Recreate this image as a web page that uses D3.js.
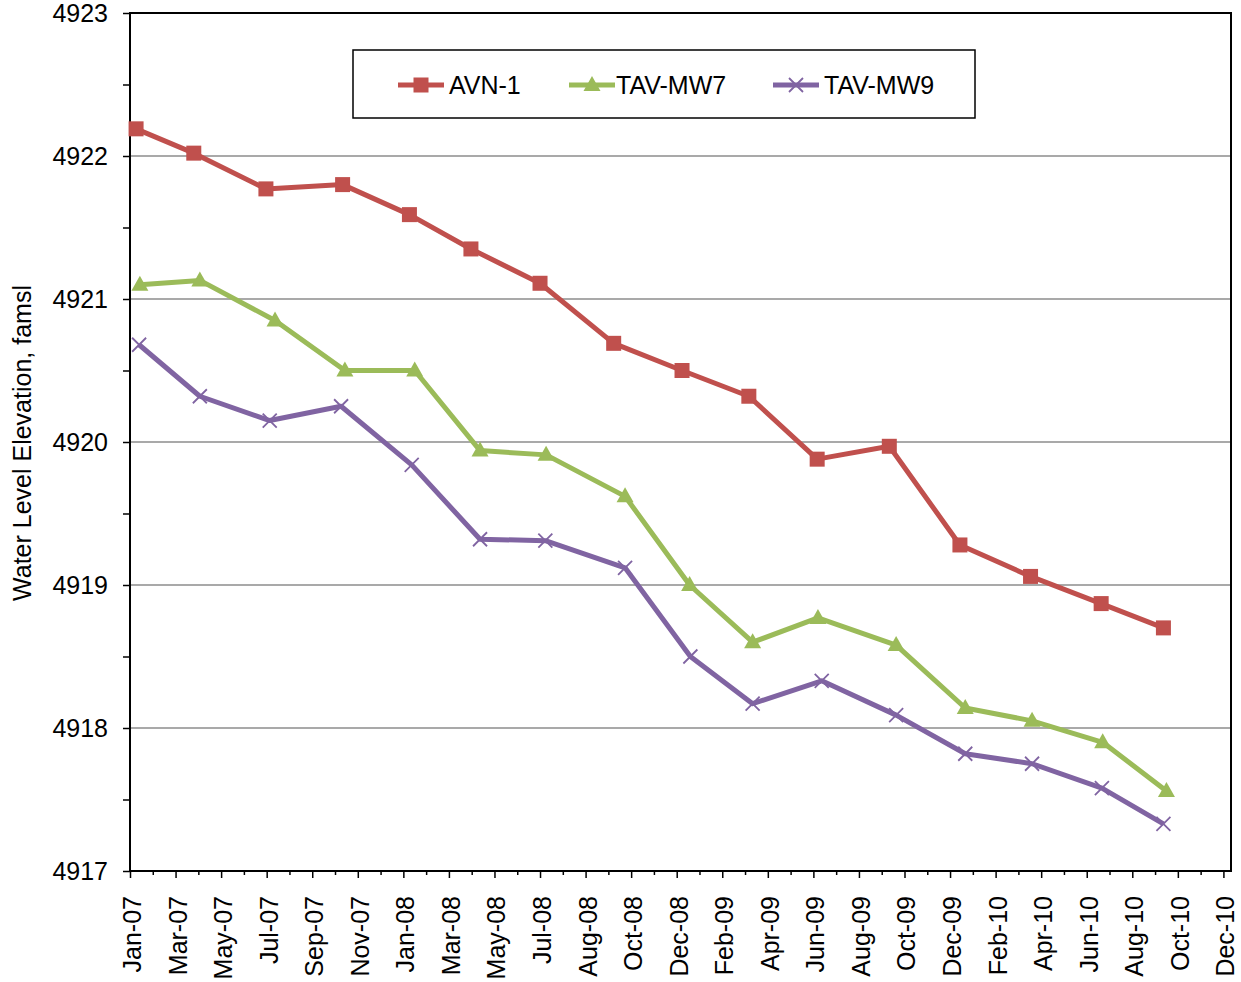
<!DOCTYPE html>
<html>
<head>
<meta charset="utf-8">
<script src="https://cdn.jsdelivr.net/npm/d3@7"></script>
<style>
  html, body { margin: 0; padding: 0; background: #fff; }
  svg { display: block; font-family: "Liberation Sans", Arial, sans-serif; }
</style>
</head>
<body>
<svg id="chart" width="1241" height="982"></svg>
<script>
// ---------- DATA ----------
const seriesNames = ["AVN-1", "TAV-MW7", "TAV-MW9"];

const avnDates = ["2007-01-16","2007-04-02","2007-07-06","2007-10-15","2008-01-11","2008-04-01","2008-07-01","2008-10-06",
                  "2009-01-04","2009-04-02","2009-07-01","2009-10-04","2010-01-05","2010-04-08","2010-07-10","2010-09-30"];
const avnValues = [4922.19,4922.02,4921.77,4921.80,4921.59,4921.35,4921.11,4920.69,
                   4920.50,4920.32,4919.88,4919.97,4919.28,4919.06,4918.87,4918.70];

const mw7Dates = ["2007-01-21","2007-04-10","2007-07-18","2007-10-18","2008-01-18","2008-04-13","2008-07-09","2008-10-21",
                  "2009-01-14","2009-04-07","2009-07-02","2009-10-13","2010-01-12","2010-04-10","2010-07-12","2010-10-04"];
const mw7Values = [4921.10,4921.13,4920.85,4920.50,4920.50,4919.94,4919.91,4919.62,
                   4919.00,4918.60,4918.77,4918.58,4918.14,4918.05,4917.90,4917.56];

const mw9Dates = ["2007-01-20","2007-04-10","2007-07-11","2007-10-13","2008-01-14","2008-04-13","2008-07-08","2008-10-21",
                  "2009-01-15","2009-04-07","2009-07-07","2009-10-13","2010-01-12","2010-04-10","2010-07-11","2010-09-30"];
const mw9Values = [4920.68,4920.32,4920.15,4920.25,4919.84,4919.32,4919.31,4919.12,
                   4918.50,4918.17,4918.33,4918.09,4917.82,4917.75,4917.58,4917.33];

const xAxisStart = "2007-01-08";
const xAxisEnd = "2010-12-28";
const xTickStepDays = 60;
const xTickLabels = ["Jan-07","Mar-07","May-07","Jul-07","Sep-07","Nov-07","Jan-08","Mar-08","May-08","Jul-08","Aug-08",
                     "Oct-08","Dec-08","Feb-09","Apr-09","Jun-09","Aug-09","Oct-09","Dec-09","Feb-10","Apr-10","Jun-10",
                     "Aug-10","Oct-10","Dec-10"];
const yTickValues = [4917, 4918, 4919, 4920, 4921, 4922, 4923];
const yTitle = "Water Level Elevation, famsl";

// ---------- SETUP ----------
const parse = d3.utcParse("%Y-%m-%d");
const colors = ["#C0504D", "#9BBB59", "#8064A2"];
const symbols = ["square", "triangle", "x"];
const FS = 25;

const L = 130, R = 1231, T = 13, B = 871;
const svg = d3.select("#chart");
svg.append("rect").attr("width", 1241).attr("height", 982).attr("fill", "#fff");

const x = d3.scaleUtc().domain([parse(xAxisStart), parse(xAxisEnd)]).range([L, R]);
const y = d3.scaleLinear().domain([4917, 4923]).range([B, T]);

const majorTicks = xTickLabels.map((_, i) => d3.utcDay.offset(parse(xAxisStart), i * xTickStepDays));
const minorTicks = majorTicks.slice(0, -1).map(d => d3.utcDay.offset(d, xTickStepDays / 2));
const yMinor = d3.range(4917.5, 4923, 1);

// gridlines
svg.append("g").selectAll("line").data(yTickValues.slice(1, -1)).join("line")
  .attr("x1", L).attr("x2", R).attr("y1", d => y(d)).attr("y2", d => y(d))
  .attr("stroke", "#8c8c8c").attr("stroke-width", 1.5);

// y axis
const yAxis = d3.axisLeft(y).tickValues(yTickValues).tickSize(7).tickFormat(d3.format("d"));
const gy = svg.append("g").attr("transform", `translate(${L},0)`).call(yAxis);
gy.select(".domain").remove();
gy.selectAll(".tick line").attr("stroke", "#000").attr("stroke-width", 1.5);
gy.selectAll(".tick text").attr("font-size", FS).attr("fill", "#000").attr("x", -22)
  .attr("font-family", "Liberation Sans, Arial, sans-serif");
svg.append("g").attr("transform", `translate(${L},0)`)
  .call(d3.axisLeft(y).tickValues(yMinor).tickSize(7).tickFormat(""))
  .call(g => g.select(".domain").remove())
  .selectAll(".tick line").attr("stroke", "#000").attr("stroke-width", 1.5);

// x axis
const xAxis = d3.axisBottom(x).tickValues(majorTicks).tickSize(7).tickFormat((d, i) => xTickLabels[i]);
const gx = svg.append("g").attr("transform", `translate(0,${B})`).call(xAxis);
gx.select(".domain").remove();
gx.selectAll(".tick line").attr("stroke", "#000").attr("stroke-width", 1.5);
gx.selectAll(".tick text")
  .attr("font-size", FS).attr("fill", "#000")
  .attr("font-family", "Liberation Sans, Arial, sans-serif")
  .attr("text-anchor", "end")
  .attr("transform", "rotate(-90)")
  .attr("x", -25).attr("y", 1).attr("dy", "0.38em");
svg.append("g").attr("transform", `translate(0,${B})`)
  .call(d3.axisBottom(x).tickValues(minorTicks).tickSize(4).tickFormat(""))
  .call(g => g.select(".domain").remove())
  .selectAll(".tick line").attr("stroke", "#000").attr("stroke-width", 1.5);

// plot border
svg.append("rect").attr("x", L).attr("y", T).attr("width", R - L).attr("height", B - T)
  .attr("fill", "none").attr("stroke", "#000").attr("stroke-width", 2);

// y title
svg.append("text").attr("transform", `translate(31,${(T + B) / 2 + 1}) rotate(-90)`)
  .attr("text-anchor", "middle").attr("font-size", FS).attr("fill", "#000").text(yTitle);

// ---------- SERIES ----------
function drawMarker(g, type, color, cx, cy) {
  if (type === "square") {
    g.append("rect").attr("x", cx - 7.5).attr("y", cy - 7.5).attr("width", 15).attr("height", 15).attr("fill", color);
  } else if (type === "triangle") {
    g.append("path").attr("d", `M${cx},${cy - 9}L${cx + 8.5},${cy + 6}L${cx - 8.5},${cy + 6}Z`).attr("fill", color);
  } else {
    g.append("path").attr("d", `M${cx - 7},${cy - 7}L${cx + 7},${cy + 7}M${cx - 7},${cy + 7}L${cx + 7},${cy - 7}`)
      .attr("stroke", color).attr("stroke-width", 1.8).attr("fill", "none");
  }
}

const allDates = [avnDates, mw7Dates, mw9Dates];
const allValues = [avnValues, mw7Values, mw9Values];
const line = d3.line().x(d => x(d.date)).y(d => y(d.value));

allDates.forEach((dates, s) => {
  const data = dates.map((d, i) => ({ date: parse(d), value: allValues[s][i] }));
  const g = svg.append("g");
  g.append("path").datum(data).attr("d", line).attr("fill", "none")
    .attr("stroke", colors[s]).attr("stroke-width", 5).attr("stroke-linejoin", "round");
  data.forEach(d => drawMarker(g, symbols[s], colors[s], x(d.date), y(d.value)));
});

// ---------- LEGEND ----------
const lg = svg.append("g");
lg.append("rect").attr("x", 353).attr("y", 50).attr("width", 622).attr("height", 68)
  .attr("fill", "#fff").attr("stroke", "#000").attr("stroke-width", 1.5);
const legendX = [398, 569, 773];
const legendTextX = [449, 616, 824];
seriesNames.forEach((name, s) => {
  const ly = 85;
  lg.append("line").attr("x1", legendX[s]).attr("x2", legendX[s] + 46).attr("y1", ly).attr("y2", ly)
    .attr("stroke", colors[s]).attr("stroke-width", 5);
  drawMarker(lg, symbols[s], colors[s], legendX[s] + 23, ly);
  lg.append("text").attr("x", legendTextX[s]).attr("y", ly + 9).attr("font-size", FS).attr("fill", "#000").text(name);
});
</script>
</body>
</html>
